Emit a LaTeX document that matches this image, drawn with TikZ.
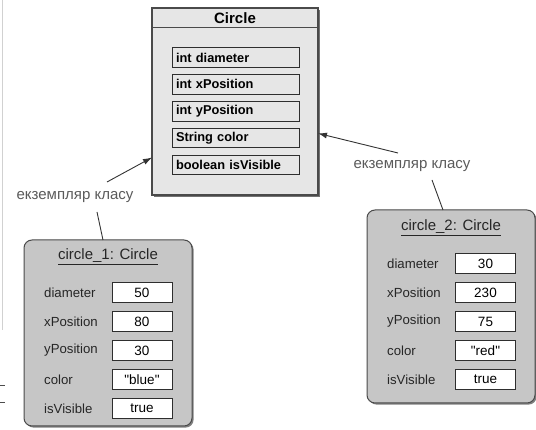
\documentclass[tikz,border=0pt]{standalone}
\usepackage{fontspec}
\setmainfont{Liberation Sans}[Ligatures=TeXOff]
\usetikzlibrary{shadows,calc,arrows.meta}

\definecolor{classfill}{HTML}{E6E6E6}
\definecolor{objfill}{HTML}{C6C6C6}
\definecolor{edge}{HTML}{4A4A4A}
\definecolor{slotedge}{HTML}{2E2E2E}
\definecolor{notetext}{HTML}{5A5A5A}

% straight double quote
\newcommand{\dq}{{\char34}}

\begin{document}
\begin{tikzpicture}[x=1pt,y=-1pt,
  classbox/.style={draw=edge, line width=1.1pt, fill=classfill, inner sep=0pt, outer sep=0pt,
    minimum width=166pt, minimum height=187pt,
    drop shadow={shadow xshift=1.6pt, shadow yshift=-1.6pt, fill=black!55, opacity=1}},
  objbox/.style={draw=edge, line width=1pt, fill=objfill, rounded corners=8pt, inner sep=0pt, outer sep=0pt,
    minimum width=168pt,
    drop shadow={shadow xshift=1.6pt, shadow yshift=-1.6pt, fill=black!50, opacity=1}},
  slot/.style={draw=slotedge, line width=1pt, fill=classfill, inner xsep=4pt, inner ysep=0pt,
    minimum width=127pt, minimum height=19.5pt, text width=119pt, align=left,
    font=\fontsize{12.8}{14}\selectfont\bfseries},
  valbox/.style={draw=slotedge, line width=1pt, fill=white, inner sep=0pt,
    minimum width=60pt, minimum height=19.5pt, font=\fontsize{13.5}{15}\selectfont},
  fieldname/.style={anchor=west, inner sep=0pt, font=\fontsize{13.2}{15}\selectfont, text=black!85},
  objtitle/.style={inner sep=0pt, font=\fontsize{15}{17}\selectfont, text=black!85},
  note/.style={inner sep=2pt, font=\fontsize{15}{17}\selectfont, text=notetext},
  link/.style={draw=black!80, line width=0.9pt},
  arr/.style={link, -{Latex[length=9pt,width=6pt]}}
]
\useasboundingbox (0,0) rectangle (536,430);

% faint edge marks at the left border
\draw[black!18, line width=0.8pt] (2,0) -- (2,330);
\draw[black!70, line width=0.6pt] (0,385) -- (5,385);
\draw[black!70, line width=0.6pt] (0,402) -- (5,402);

% class Circle
\node[classbox] (cls) at (235,101.5) {};
\draw[edge, line width=1pt] (cls.west |- 0,28) -- (cls.east |- 0,28);
\node[inner sep=0pt, font=\fontsize{15}{17}\selectfont\bfseries] (clsname) at (235,18.5) {Circle};
\foreach \txt [count=\i] in {int diameter, int xPosition, int yPosition, String color, boolean isVisible}{
  \node[slot] (attr\i) at (235.5,{57.5+26.9*(\i-1)}) {\txt};
}

% object circle_1
\node[objbox, minimum height=186pt] (obj1) at (108,333) {};
\node[objtitle] (obj1name) at (108,257) {\underline{circle\_1: Circle}};
\foreach \lab/\val [count=\i] in {diameter/50, xPosition/80, yPosition/30, color/\dq blue\dq, isVisible/true}{
  \node[fieldname] (o1l\i) at (44,{292.5+29*(\i-1)}) {\lab};
  \node[valbox] (o1v\i) at (142,{292.5+29*(\i-1)}) {\val};
}

% object circle_2
\node[objbox, minimum height=193pt] (obj2) at (451,306.5) {};
\node[objtitle] (obj2name) at (451,228) {\underline{circle\_2: Circle}};
\foreach \lab/\val [count=\i] in {diameter/30, xPosition/230, yPosition/75, color/\dq red\dq, isVisible/true}{
  \node[fieldname] (o2l\i) at (387,{263.5+29*(\i-1)}) {\lab};
  \node[valbox] (o2v\i) at (485.5,{263.5+29*(\i-1)}) {\val};
}

% "instance of" notes with their connectors
\node[note] (note1) at (75,197) {екземпляр класу};
\node[note] (note2) at (412,166) {екземпляр класу};

\coordinate (tail1) at (107,182);
\coordinate (tail2) at (398,153);
\coordinate (foot1) at (97,212);
\coordinate (foot2) at (432,180);

\draw[arr] (tail1) -- (cls.214);
\draw[arr] (tail2) -- (cls.339);
\draw[link] (foot1) -- ($(obj1.north)+(-5,0)$);
\draw[link] (foot2) -- ($(obj2.north)+(-8,0)$);
\end{tikzpicture}
\end{document}
